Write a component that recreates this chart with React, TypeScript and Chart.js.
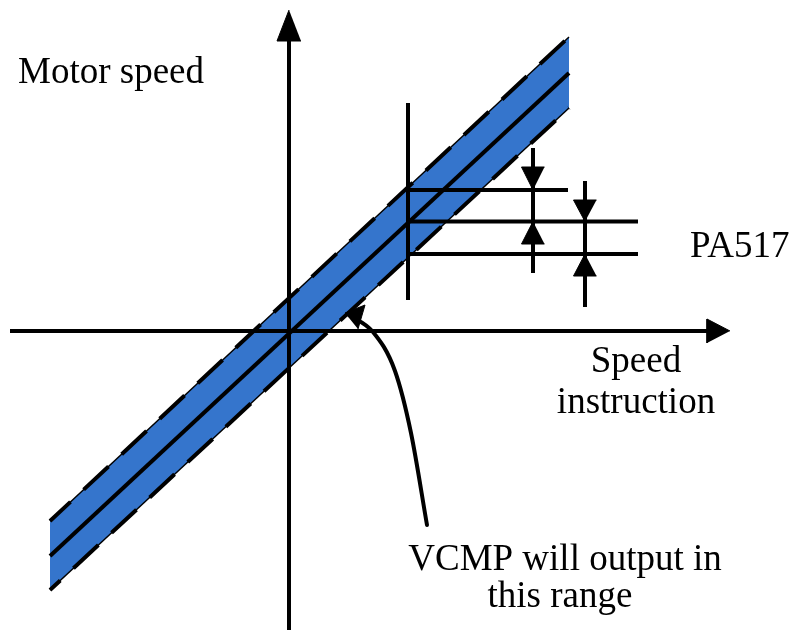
import React, { useEffect, useRef } from 'react';
import { Chart, registerables } from 'chart.js';

Chart.register(...registerables);

// Diagram coordinates: origin where the two axes cross, y grows upward.
const viewX = [-28.9, 50.7];
const viewY = [-29.9, 33.1];

// Tolerance band (speed instruction -> motor speed)
const bandX = [-23.9, 28.0];
const upperEdge = [-19.0, 29.4];
const centerLine = [-22.5, 25.8];
const lowerEdge = [-25.9, 22.3];

// Axes
const xAxisSpan = [-27.9, 42.2];
const xArrowBaseTip = [41.8, 44.1];
const yAxisSpan = [-29.9, 29.3];
const yArrowBaseTip = [29.0, 32.1];
const axisArrowHalf = 1.2;

// PA517 marker
const markerX = 11.9;
const markerSpan = [3.1, 22.8];
const levelY = [14.1, 10.95, 7.7];
const levelEnd = [27.9, 34.9, 34.9];

// Gauge arrows
const gaugeX = [24.4, 29.6];
const gaugeShaft = [[5.8, 18.3], [2.4, 15.0]];
const gaugeDownHead = [[14.1, 16.4], [10.95, 13.1]]; // tip, base
const gaugeUpHead = [[10.95, 8.7], [7.7, 5.5]]; // tip, base
const gaugeHeadHalf = 1.15;

// Callout curve
const curveX = [6.0, 8.4, 10.6, 12.2, 13.8];
const curveY = [1.6, -0.1, -4.0, -10.2, -19.4];
const curveHeadX = [5.6, 7.6, 6.9];
const curveHeadY = [1.8, 2.6, 0.2];

const labelTexts = ['Motor speed', 'PA517', 'Speed', 'instruction', 'VCMP will output in', 'this range'];
const labelX = [-27.1, 40.1, 34.7, 34.7, 27.6, 27.1];
const labelY = [24.8, 7.4, -4.1, -8.2, -23.9, -27.6];
const labelAlign = ['left', 'left', 'center', 'center', 'center', 'center'];

const BLUE = '#3575CC';
const FONT = '37px "Liberation Serif", "Times New Roman", serif';

type P = { x: number; y: number };
const pts = (xs: number[], ys: number[]): P[] => xs.map((x, i) => ({ x, y: ys[i] }));

const line = (data: P[], opts: any = {}) => ({
  data,
  showLine: true,
  pointRadius: 0,
  pointHoverRadius: 0,
  borderColor: '#000',
  borderWidth: 4,
  borderCapStyle: 'butt',
  fill: false,
  tension: 0,
  ...opts,
});

const tri = (data: P[], order = 0) =>
  line(data, { fill: 'shape', backgroundColor: '#000', borderWidth: 1, order });

const textPlugin = {
  id: 'diagramText',
  afterDatasetsDraw(chart: any) {
    const { ctx, scales } = chart;
    ctx.save();
    ctx.fillStyle = '#000';
    ctx.font = FONT;
    ctx.textBaseline = 'alphabetic';
    labelTexts.forEach((t, i) => {
      ctx.textAlign = labelAlign[i];
      ctx.fillText(t, scales.x.getPixelForValue(labelX[i]), scales.y.getPixelForValue(labelY[i]));
    });
    ctx.restore();
  },
};

export default function App() {
  const ref = useRef<HTMLCanvasElement>(null);

  useEffect(() => {
    if (!ref.current) return;
    const datasets: any[] = [];

    // band fill
    datasets.push(
      line(
        [
          { x: bandX[0], y: upperEdge[0] },
          { x: bandX[1], y: upperEdge[1] },
          { x: bandX[1], y: lowerEdge[1] },
          { x: bandX[0], y: lowerEdge[0] },
        ],
        { fill: 'shape', backgroundColor: BLUE, borderWidth: 0, borderColor: 'rgba(0,0,0,0)', order: 20 }
      )
    );
    // thin solid edges
    datasets.push(line(pts(bandX, upperEdge), { borderWidth: 1.5, order: 15 }));
    datasets.push(line(pts(bandX, lowerEdge), { borderWidth: 1.5, order: 15 }));
    // dashed edges
    datasets.push(line(pts(bandX, upperEdge), { borderDash: [34, 18], borderDashOffset: 6, order: 14 }));
    datasets.push(line(pts(bandX, lowerEdge), { borderDash: [34, 18], borderDashOffset: 20, order: 14 }));
    // center line
    datasets.push(line(pts(bandX, centerLine), { order: 13 }));

    // axes
    datasets.push(line(pts(xAxisSpan, [0, 0]), { order: 5 }));
    datasets.push(line(pts([0, 0], yAxisSpan), { order: 5 }));
    datasets.push(
      tri(
        [
          { x: xArrowBaseTip[1], y: 0 },
          { x: xArrowBaseTip[0], y: axisArrowHalf },
          { x: xArrowBaseTip[0], y: -axisArrowHalf },
        ],
        4
      )
    );
    datasets.push(
      tri(
        [
          { x: 0, y: yArrowBaseTip[1] },
          { x: -axisArrowHalf, y: yArrowBaseTip[0] },
          { x: axisArrowHalf, y: yArrowBaseTip[0] },
        ],
        4
      )
    );

    // marker & levels
    datasets.push(line(pts([markerX, markerX], markerSpan), { order: 5 }));
    levelY.forEach((y, i) => {
      datasets.push(line(pts([markerX, levelEnd[i]], [y, y]), { order: 5 }));
    });

    // gauges
    gaugeX.forEach((gx, i) => {
      datasets.push(line(pts([gx, gx], gaugeShaft[i]), { order: 5 }));
      const [dt, db] = gaugeDownHead[i];
      datasets.push(tri([{ x: gx, y: dt }, { x: gx - gaugeHeadHalf, y: db }, { x: gx + gaugeHeadHalf, y: db }], 4));
      const [ut, ub] = gaugeUpHead[i];
      datasets.push(tri([{ x: gx, y: ut }, { x: gx - gaugeHeadHalf, y: ub }, { x: gx + gaugeHeadHalf, y: ub }], 4));
    });

    // callout curve
    datasets.push(
      line(pts(curveX, curveY), { borderWidth: 4, cubicInterpolationMode: 'monotone', borderCapStyle: 'round', order: 5 })
    );
    datasets.push(tri(pts(curveHeadX, curveHeadY), 4));

    const chart = new Chart(ref.current, {
      type: 'scatter',
      data: { datasets },
      options: {
        responsive: false,
        animation: false,
        events: [],
        layout: { padding: 0 },
        plugins: { legend: { display: false }, tooltip: { enabled: false } },
        scales: {
          x: { type: 'linear', min: viewX[0], max: viewX[1], display: false },
          y: { type: 'linear', min: viewY[0], max: viewY[1], display: false },
        },
      },
      plugins: [textPlugin],
    });
    return () => chart.destroy();
  }, []);

  return (
    <canvas
      ref={ref}
      width={796}
      height={630}
      style={{ position: 'fixed', left: 0, top: 0, width: 796, height: 630, display: 'block', background: '#fff' }}
    />
  );
}
